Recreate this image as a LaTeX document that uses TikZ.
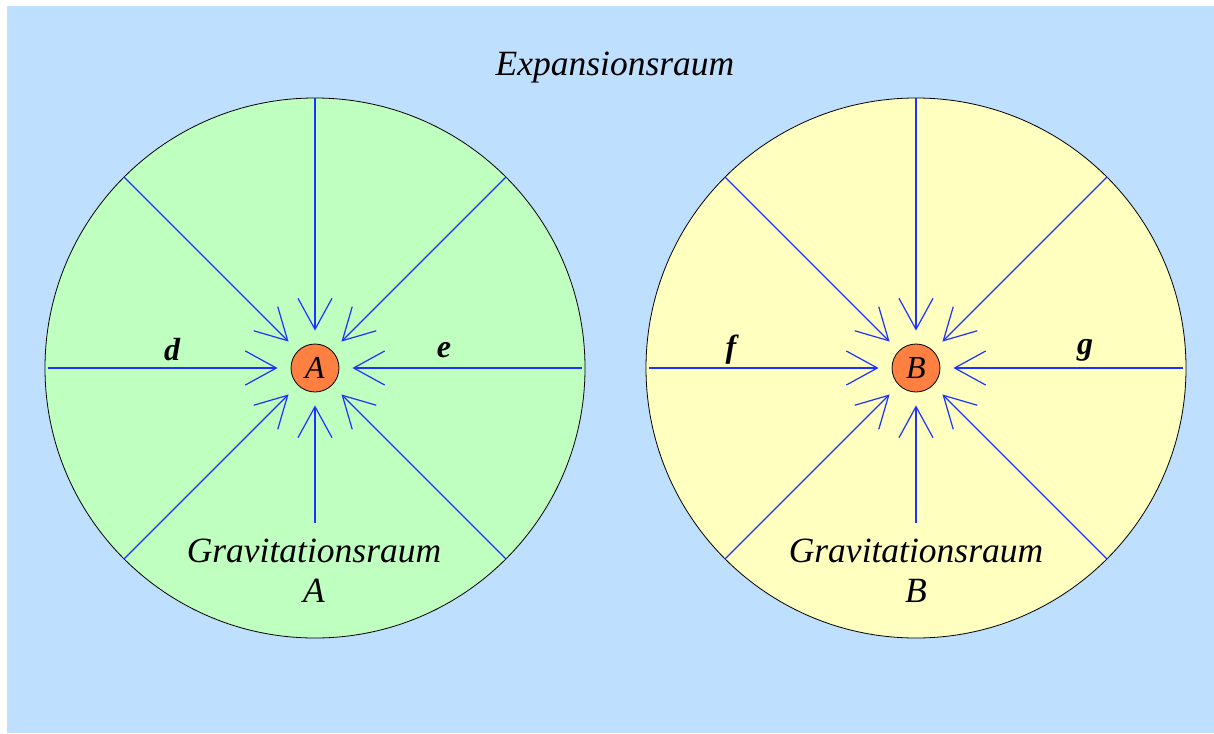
\documentclass[tikz,border=0pt]{standalone}
\usepackage{fontspec}
\setmainfont{Liberation Serif}
\usetikzlibrary{arrows.meta}
\definecolor{bgblue}{RGB}{191,223,255}
\definecolor{gfill}{RGB}{191,255,191}
\definecolor{yfill}{RGB}{255,255,191}
\definecolor{massorange}{RGB}{255,128,64}
\definecolor{arrblue}{RGB}{30,50,255}
\begin{document}
\begin{tikzpicture}[x=1pt,y=-1pt,
  space/.style={circle,draw=black,line width=0.8pt,minimum size=540pt,inner sep=0pt},
  mass/.style={circle,draw=black,line width=0.8pt,fill=massorange,minimum size=48pt,inner sep=0pt,font=\fontsize{32}{36}\selectfont\itshape},
  arr/.style={draw=arrblue,line width=1.2pt,shorten >=13pt,-{Straight Barb[length=31pt,width=34pt,line width=1.2pt]}},
  lbl/.style={font=\fontsize{32}{36}\selectfont\bfseries\itshape},
  title/.style={font=\fontsize{35.5}{40}\selectfont\itshape,align=center}]
\useasboundingbox (0,0) rectangle (1214,733);
\fill[white] (0,0) rectangle (1214,733);
\fill[bgblue] (7,6) rectangle (1214,733);
\node[title] (exp) at (615,68) {Expansionsraum};
% space A
\node[space,fill=gfill] (GA) at (315,368) {};
\node[mass] (A) at (315,368) {A};
\coordinate (sA) at (315,523);
\draw[arr,shorten <=3pt] (GA.west) -- (A);
\draw[arr,shorten <=3pt] (GA.east) -- (A);
\draw[arr] (GA.north) -- (A);
\draw[arr] (sA) -- (A);
\draw[arr] (GA.north west) -- (A);
\draw[arr] (GA.north east) -- (A);
\draw[arr] (GA.south west) -- (A);
\draw[arr] (GA.south east) -- (A);
\node[lbl] (d) at (172,350) {d};
\node[lbl] (e) at (444,350) {e};
\node[title] (tA) at (314,571) {Gravitationsraum\\A};
% space B
\node[space,fill=yfill] (GB) at (916,368) {};
\node[mass] (B) at (916,368) {B};
\coordinate (sB) at (916,523);
\draw[arr,shorten <=3pt] (GB.west) -- (B);
\draw[arr,shorten <=3pt] (GB.east) -- (B);
\draw[arr] (GB.north) -- (B);
\draw[arr] (sB) -- (B);
\draw[arr] (GB.north west) -- (B);
\draw[arr] (GB.north east) -- (B);
\draw[arr] (GB.south west) -- (B);
\draw[arr] (GB.south east) -- (B);
\node[lbl] (f) at (731,350) {f};
\node[lbl] (g) at (1085,350) {g};
\node[title] (tB) at (916,571) {Gravitationsraum\\B};
\end{tikzpicture}
\end{document}
